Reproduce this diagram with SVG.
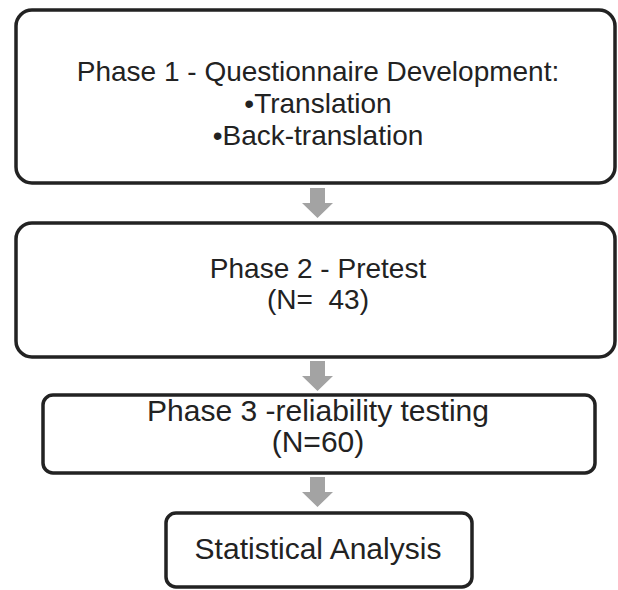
<svg xmlns="http://www.w3.org/2000/svg" width="618" height="590" viewBox="0 0 618 590">
<defs>
<style>
.box{fill:#fff;stroke:#222;stroke-width:3.5}
.t{font-family:"Liberation Sans",Arial,sans-serif;fill:#222;text-anchor:middle;white-space:pre}
.arr{fill:#a3a3a3}
</style>
</defs>
<rect width="618" height="590" fill="#fff"/>
<g id="connectors">
<path class="arr" d="M310,188 H325 V203 H333 L317.5,218 L302,203 H310 Z"/>
<path class="arr" d="M310,361 H325 V376 H333 L317.5,391 L302,376 H310 Z"/>
<path class="arr" d="M310,477 H325 V492 H333 L317.5,507 L302,492 H310 Z"/>
</g>
<g id="phase1">
<rect class="box" x="16" y="10" width="599" height="173" rx="16"/>
<text class="t" x="318" y="81" font-size="28">Phase 1 - Questionnaire Development:</text>
<text class="t" x="318" y="113" font-size="28">•Translation</text>
<text class="t" x="318" y="145" font-size="28">•Back-translation</text>
</g>
<g id="phase2">
<rect class="box" x="16" y="223" width="599" height="134" rx="16"/>
<text class="t" x="318" y="278" font-size="28">Phase 2 - Pretest</text>
<text class="t" x="318" y="309" font-size="28" xml:space="preserve">(N=  43)</text>
</g>
<g id="phase3">
<rect class="box" x="43" y="395" width="552" height="78" rx="10"/>
<text class="t" x="318" y="421" font-size="30">Phase 3 -reliability testing</text>
<text class="t" x="318" y="452" font-size="30">(N=60)</text>
</g>
<g id="analysis">
<rect class="box" x="166" y="513" width="306" height="74" rx="10"/>
<text class="t" x="318" y="559" font-size="30">Statistical Analysis</text>
</g>
</svg>
